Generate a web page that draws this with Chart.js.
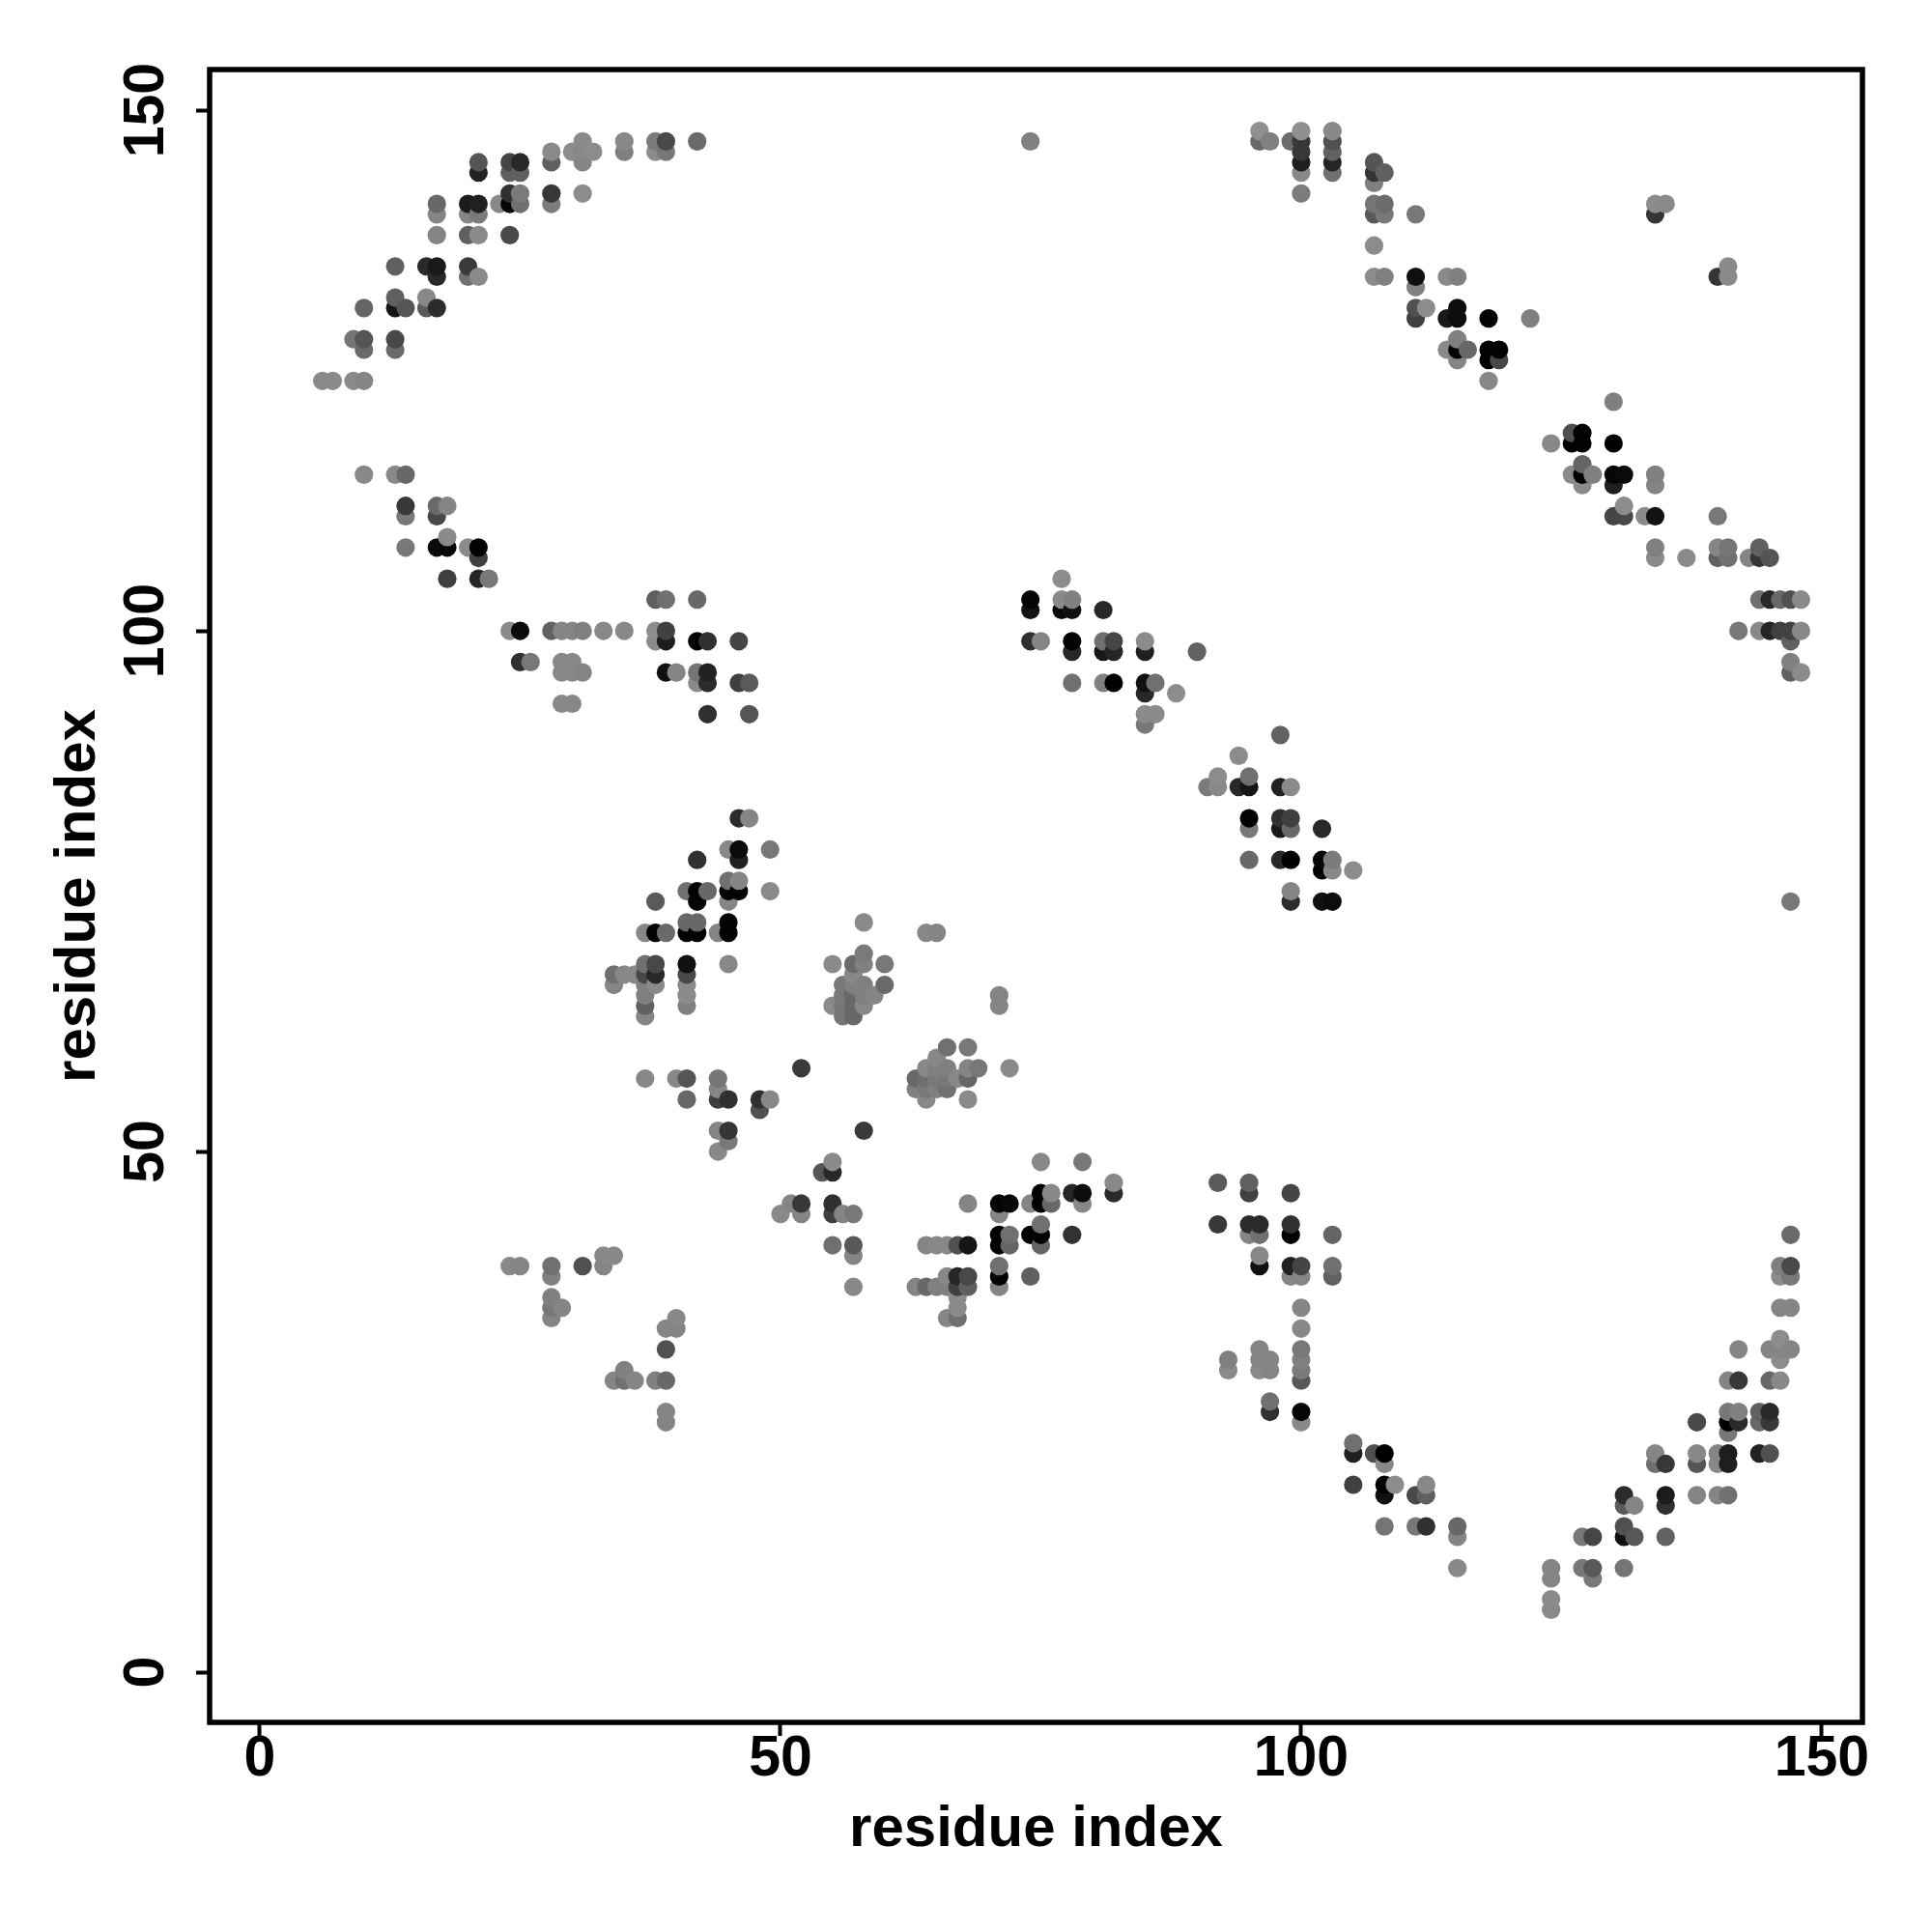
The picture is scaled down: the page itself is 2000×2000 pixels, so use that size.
<!DOCTYPE html>
<html>
<head>
<meta charset="utf-8">
<title>residue contacts</title>
<script src="https://cdn.jsdelivr.net/npm/chart.js@4"></script>
<style>
  html, body { margin: 0; padding: 0; background: #fff; }
  canvas { display: block; }
</style>
</head>
<body>
<canvas id="contactChart" width="2000" height="2000"></canvas>
<script>
// contact map, one residue column at a time
const tickValues = [0, 50, 100, 150];
const axisTitle = 'residue index';

const columnX = [
  6, 7, 9, 10, 13, 14, 16, 17, 18, 20, 21, 22, 23, 24, 25, 26, 28, 29, 30, 31, 32, 33, 34, 35, 36,
  37, 38, 39, 40, 41, 42, 43, 44, 45, 46, 47, 48, 49, 50, 51, 52, 54, 55, 56, 57, 58, 59, 60,
  63, 64, 65, 66, 67, 68, 69, 71, 72, 74, 75, 76, 77, 78, 79, 81, 82, 85, 86, 88, 90, 91, 92, 93, 94,
  95, 96, 97, 98, 99, 100, 102, 103, 105, 107, 108, 109, 111, 112, 114, 115, 116, 118, 119, 122,
  124, 126, 127, 128, 130, 131, 132, 133, 134, 135, 137, 138, 140, 141, 142, 143, 144, 145, 146, 147, 148
];

const columnY = [
  [124],
  [124],
  [124, 128],
  [115, 124, 127, 128, 131],
  [115, 127, 128, 131, 132, 135],
  [108, 111, 112, 115, 131],
  [131, 132, 135],
  [108, 111, 112, 131, 134, 135, 138, 140, 141],
  [105, 108, 109, 112],
  [108, 134, 135, 138, 140, 141],
  [105, 107, 108, 134, 138, 140, 141, 144, 145],
  [105],
  [141],
  [39, 100, 138, 141, 142, 144, 145],
  [39, 97, 100, 141, 142, 144, 145],
  [97],
  [34, 35, 36, 38, 39, 100, 141, 142, 145, 146],
  [35, 93, 96, 97, 100],
  [93, 96, 97, 100, 146],
  [39, 96, 100, 142, 145, 146, 147],
  [146],
  [39, 40, 100],
  [28, 40, 66, 67],
  [28, 29, 67, 100, 146, 147],
  [28, 67],
  [57, 63, 64, 65, 66, 67, 68, 71],
  [28, 66, 67, 68, 71, 74, 99, 100, 103, 146, 147],
  [24, 25, 28, 31, 33, 71, 96, 99, 100, 103, 146, 147],
  [33, 34, 57, 96],
  [55, 57, 64, 65, 66, 67, 68, 71, 72, 75],
  [71, 72, 74, 75, 78, 95, 96, 99, 103, 147],
  [75, 92, 95, 96, 99],
  [50, 52, 55, 56, 57, 71],
  [51, 52, 55, 68, 71, 72, 74, 75, 76, 79],
  [75, 76, 78, 79, 82, 95, 99],
  [82, 92, 95],
  [54, 55],
  [55, 75, 79],
  [44],
  [45],
  [44, 45, 58],
  [48],
  [41, 44, 45, 48, 49, 64, 68],
  [44, 63, 64, 65, 66],
  [37, 40, 41, 44, 63, 64, 65, 66, 67, 68],
  [52, 64, 65, 66, 68, 69, 72],
  [65],
  [66, 68],
  [37, 56, 57],
  [37, 41, 55, 56, 57, 58, 71],
  [37, 41, 56, 57, 58, 59, 71],
  [34, 37, 38, 41, 56, 57, 58, 60],
  [34, 35, 36, 37, 38, 41, 57],
  [37, 38, 41, 45, 55, 57, 58, 60],
  [58],
  [37, 38, 39, 41, 42, 44, 45, 64, 65],
  [41, 42, 45, 58],
  [38, 42, 45, 99, 102, 103, 147],
  [41, 42, 43, 45, 46, 49, 99],
  [45, 46],
  [102, 103, 105],
  [42, 46, 95, 98, 99, 102, 103],
  [45, 46, 49],
  [95, 98, 99, 102],
  [46, 47, 95, 98, 99],
  [91, 92, 94, 95, 98, 99],
  [92, 95],
  [94],
  [98],
  [85],
  [43, 47, 85, 86],
  [29, 30],
  [85, 88],
  [42, 43, 46, 47, 78, 81, 82, 85, 86],
  [29, 30, 31, 39, 40, 42, 43, 147, 148],
  [25, 26, 29, 30, 147],
  [78, 81, 82, 85, 90],
  [38, 39, 42, 43, 46, 74, 75, 78, 81, 82, 85, 147],
  [24, 25, 28, 29, 30, 31, 33, 35, 38, 39, 142, 144, 145, 146, 147, 148],
  [74, 77, 78, 81],
  [38, 39, 42, 74, 77, 78, 144, 145, 146, 147, 148],
  [18, 21, 22, 77],
  [21, 134, 137, 140, 141, 143, 144, 145],
  [14, 17, 18, 20, 21, 134, 140, 141, 144],
  [18],
  [14, 17, 130, 131, 133, 134, 140],
  [14, 17, 18, 131],
  [127, 130, 134],
  [10, 13, 14, 126, 127, 128, 130, 131, 134],
  [127],
  [124, 126, 127, 130],
  [126, 127],
  [130],
  [6, 7, 9, 10, 118],
  [115, 118, 119],
  [10, 13, 114, 115, 116, 118, 119],
  [9, 10, 13, 115],
  [111, 114, 115, 118, 122],
  [10, 13, 14, 16, 17, 111, 112, 115],
  [13, 16],
  [111],
  [20, 21, 107, 108, 111, 114, 115, 140, 141],
  [13, 16, 17, 20, 141],
  [107],
  [17, 20, 21, 24],
  [17, 20, 21, 107, 108, 111, 134],
  [17, 20, 21, 23, 24, 25, 28, 107, 108, 134, 135],
  [24, 25, 28, 31, 100],
  [107],
  [21, 24, 25, 100, 103, 107, 108],
  [21, 24, 25, 28, 31, 100, 103, 107],
  [28, 30, 31, 32, 35, 38, 39, 100, 103],
  [31, 35, 38, 39, 42, 74, 96, 97, 99, 100, 103],
  [96, 100, 103]
];

// grey level of each dot, same layout as columnY
const columnShade = [
  [0x8a],
  [0x8a],
  [0x8a, 0x75],
  [0x88, 0x85, 0x6a, 0x55, 0x65],
  [0x88, 0x6a, 0x48, 0x15, 0x60, 0x60],
  [0x78, 0x78, 0x38, 0x68, 0x55],
  [0x5a, 0x88, 0x2a],
  [0x0c, 0x48, 0x6a, 0x2c, 0x28, 0x1a, 0x85, 0x85, 0x68],
  [0x40, 0x08, 0x8a, 0x85],
  [0x8a, 0x70, 0x3a, 0x60, 0x85, 0x1c],
  [0x25, 0x40, 0x02, 0x8a, 0x8a, 0x7a, 0x20, 0x22, 0x55],
  [0x78],
  [0x88],
  [0x88, 0x8a, 0x4a, 0x05, 0x30, 0x60, 0x45],
  [0x85, 0x30, 0x0a, 0x70, 0x7a, 0x60, 0x28],
  [0x78],
  [0x85, 0x78, 0x80, 0x80, 0x70, 0x62, 0x7c, 0x38, 0x60, 0x8a],
  [0x85, 0x88, 0x88, 0x88, 0x85],
  [0x88, 0x88, 0x88, 0x85, 0x8c],
  [0x50, 0x85, 0x80, 0x8c, 0x85, 0x88, 0x8a],
  [0x8c],
  [0x85, 0x88, 0x88],
  [0x85, 0x88, 0x85, 0x70],
  [0x70, 0x80, 0x88, 0x88, 0x80, 0x88],
  [0x85, 0x88],
  [0x88, 0x85, 0x60, 0x80, 0x80, 0x48, 0x70, 0x88],
  [0x80, 0x8a, 0x28, 0x48, 0x02, 0x5a, 0x8a, 0x8c, 0x60, 0x8c, 0x7a],
  [0x85, 0x85, 0x68, 0x50, 0x85, 0x6a, 0x10, 0x1c, 0x40, 0x70, 0x78, 0x4a],
  [0x85, 0x88, 0x88, 0x85],
  [0x68, 0x55, 0x80, 0x8a, 0x8a, 0x48, 0x10, 0x02, 0x68, 0x70],
  [0x02, 0x68, 0x05, 0x02, 0x30, 0x8a, 0x75, 0x02, 0x68, 0x6a],
  [0x68, 0x30, 0x2c, 0x22, 0x30],
  [0x88, 0x85, 0x40, 0x85, 0x75, 0x85],
  [0x78, 0x35, 0x30, 0x88, 0x02, 0x02, 0x85, 0x02, 0x70, 0x88],
  [0x02, 0x85, 0x20, 0x0a, 0x2c, 0x40, 0x45],
  [0x85, 0x55, 0x5a],
  [0x50, 0x30],
  [0x88, 0x8a, 0x78],
  [0x8a],
  [0x85],
  [0x85, 0x38, 0x3a],
  [0x55],
  [0x70, 0x40, 0x30, 0x28, 0x8a, 0x8a, 0x8a],
  [0x85, 0x75, 0x75, 0x78, 0x78],
  [0x88, 0x85, 0x58, 0x78, 0x68, 0x68, 0x68, 0x80, 0x88, 0x6a],
  [0x3a, 0x88, 0x80, 0x80, 0x80, 0x7a, 0x8a],
  [0x85],
  [0x6a, 0x78],
  [0x85, 0x80, 0x68],
  [0x68, 0x85, 0x88, 0x78, 0x70, 0x88, 0x88],
  [0x80, 0x88, 0x80, 0x78, 0x80, 0x88, 0x85],
  [0x85, 0x80, 0x88, 0x88, 0x70, 0x78, 0x80, 0x70],
  [0x70, 0x8a, 0x8a, 0x40, 0x25, 0x50, 0x88],
  [0x60, 0x48, 0x15, 0x85, 0x8a, 0x65, 0x85, 0x78],
  [0x78],
  [0x85, 0x05, 0x70, 0x02, 0x02, 0x85, 0x05, 0x85, 0x85],
  [0x65, 0x70, 0x08, 0x8a],
  [0x60, 0x02, 0x85, 0x30, 0x12, 0x05, 0x80],
  [0x65, 0x02, 0x70, 0x00, 0x02, 0x88, 0x85],
  [0x68, 0x88],
  [0x0a, 0x8a, 0x8c],
  [0x32, 0x25, 0x70, 0x28, 0x02, 0x10, 0x80],
  [0x88, 0x0c, 0x78],
  [0x80, 0x18, 0x70, 0x28],
  [0x2a, 0x88, 0x00, 0x25, 0x45],
  [0x78, 0x8a, 0x28, 0x10, 0x20, 0x8c],
  [0x8a, 0x70],
  [0x8c],
  [0x62],
  [0x7a],
  [0x38, 0x5a, 0x88, 0x8c],
  [0x8a, 0x80],
  [0x28, 0x8c],
  [0x85, 0x2c, 0x40, 0x60, 0x68, 0x78, 0x02, 0x15, 0x70],
  [0x8a, 0x85, 0x85, 0x10, 0x88, 0x70, 0x2a, 0x68, 0x90],
  [0x30, 0x70, 0x85, 0x85, 0x80],
  [0x28, 0x18, 0x30, 0x22, 0x62],
  [0x85, 0x20, 0x00, 0x30, 0x45, 0x2c, 0x85, 0x00, 0x68, 0x40, 0x8a, 0x6c],
  [0x88, 0x05, 0x58, 0x7a, 0x80, 0x78, 0x88, 0x85, 0x85, 0x45, 0x7c, 0x88, 0x1e, 0x38, 0x38, 0x90],
  [0x10, 0x02, 0x05, 0x28],
  [0x60, 0x70, 0x65, 0x0c, 0x88, 0x7c, 0x70, 0x25, 0x62, 0x50, 0x88],
  [0x40, 0x20, 0x70, 0x8c],
  [0x50, 0x8c, 0x8c, 0x5a, 0x75, 0x80, 0x35, 0x55],
  [0x75, 0x10, 0x02, 0x88, 0x00, 0x80, 0x78, 0x6c, 0x60],
  [0x8c],
  [0x78, 0x48, 0x40, 0x50, 0x80, 0x10, 0x78],
  [0x30, 0x60, 0x88, 0x8c],
  [0x8a, 0x18, 0x8a],
  [0x88, 0x85, 0x68, 0x85, 0x05, 0x80, 0x0c, 0x0c, 0x80],
  [0x68],
  [0x88, 0x00, 0x02, 0x02],
  [0x48, 0x02],
  [0x80],
  [0x8a, 0x8a, 0x85, 0x85, 0x88],
  [0x8a, 0x02, 0x50],
  [0x78, 0x78, 0x8a, 0x02, 0x65, 0x02, 0x02],
  [0x78, 0x58, 0x45, 0x80],
  [0x45, 0x1e, 0x05, 0x00, 0x80],
  [0x75, 0x10, 0x50, 0x5a, 0x2c, 0x48, 0x8c, 0x0a],
  [0x58, 0x85],
  [0x8a],
  [0x70, 0x85, 0x8a, 0x80, 0x12, 0x85, 0x80, 0x35, 0x8c],
  [0x62, 0x30, 0x1c, 0x38, 0x8a],
  [0x8a],
  [0x85, 0x55, 0x88, 0x4a],
  [0x85, 0x88, 0x85, 0x60, 0x85, 0x78, 0x35],
  [0x70, 0x1e, 0x1e, 0x78, 0x02, 0x78, 0x85, 0x70, 0x75, 0x8a, 0x8a],
  [0x2a, 0x80, 0x38, 0x85, 0x78],
  [0x85],
  [0x22, 0x68, 0x60, 0x88, 0x70, 0x35, 0x60],
  [0x50, 0x38, 0x28, 0x68, 0x85, 0x25, 0x28, 0x55],
  [0x88, 0x8c, 0x85, 0x8c, 0x85, 0x8c, 0x80, 0x40, 0x68],
  [0x85, 0x85, 0x78, 0x4a, 0x6a, 0x78, 0x60, 0x80, 0x60, 0x42, 0x50],
  [0x8a, 0x88, 0x8a]
];

// flatten the columns, left to right and bottom to top, so later dots land on top
const points = [];
const pointColors = [];
columnX.forEach((x, i) => {
  columnY[i].forEach((y, j) => {
    const g = columnShade[i][j];
    points.push({ x: x, y: y });
    pointColors.push('rgb(' + g + ',' + g + ',' + g + ')');
  });
});

const labelFont = { family: '"Liberation Sans", Arial, sans-serif', size: 59, weight: 'bold' };
const titleFont = { family: '"Liberation Sans", Arial, sans-serif', size: 60, weight: 'bold' };

// box around the plot
const frame = {
  id: 'frame',
  afterDatasetsDraw(chart) {
    const a = chart.chartArea;
    const c = chart.ctx;
    c.save();
    c.strokeStyle = '#000';
    c.lineWidth = 5.5;
    c.strokeRect(a.left, a.top, a.right - a.left, a.bottom - a.top);
    c.restore();
  }
};

function fixedTicks(scale) {
  scale.ticks = tickValues.map(v => ({ value: v }));
}

new Chart(document.getElementById('contactChart').getContext('2d'), {
  type: 'scatter',
  data: {
    datasets: [{
      data: points,
      pointBackgroundColor: pointColors,
      pointRadius: 9.6,
      pointBorderWidth: 0,
      pointHoverRadius: 9.6
    }]
  },
  plugins: [frame],
  options: {
    responsive: false,
    animation: false,
    layout: { padding: { top: 72, right: 72 } },
    plugins: { legend: { display: false }, tooltip: { enabled: false } },
    scales: {
      x: {
        type: 'linear',
        min: -4.82,
        max: 153.9,
        afterBuildTicks: fixedTicks,
        afterFit(scale) { scale.height = 217; },
        grid: { drawOnChartArea: false, tickLength: 14, tickWidth: 4, tickColor: '#000' },
        border: { display: false },
        ticks: { color: '#000', font: labelFont, padding: -11, maxRotation: 0, autoSkip: false },
        title: { display: true, text: axisTitle, color: '#000', font: titleFont, padding: { top: 0, bottom: 70 } }
      },
      y: {
        type: 'linear',
        min: -4.82,
        max: 153.9,
        afterBuildTicks: fixedTicks,
        afterFit(scale) { scale.width = 217; },
        grid: { drawOnChartArea: false, tickLength: 14, tickWidth: 4, tickColor: '#000' },
        border: { display: false },
        ticks: { color: '#000', font: labelFont, padding: 1, minRotation: 90, maxRotation: 90, crossAlign: 'center', autoSkip: false },
        title: { display: true, text: axisTitle, color: '#000', font: titleFont, padding: { top: 45, bottom: 0 } }
      }
    }
  }
});
</script>
</body>
</html>
